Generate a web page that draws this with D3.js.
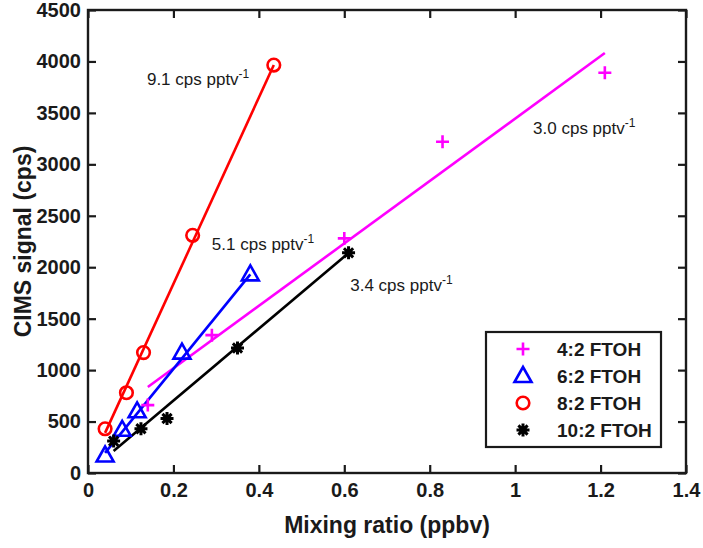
<!DOCTYPE html>
<html>
<head>
<meta charset="utf-8">
<script src="https://cdn.jsdelivr.net/npm/d3@7"></script>
<style>
  body { margin: 0; background: #fff; }
  svg { display: block; font-family: Arial, "Liberation Sans", sans-serif; }
  .tick text { font-weight: bold; font-size: 20px; fill: #1a1a1a; }
</style>
</head>
<body>
<svg></svg>
<script>
// series names and colours
let seriesNames = ['4:2 FTOH', '6:2 FTOH', '8:2 FTOH', '10:2 FTOH']
let seriesColors = ['#ff00ff', '#0000ff', '#ff0000', '#000000']
let seriesShapes = ['plus', 'triangle', 'circle', 'star']

// measured points: mixing ratio (ppbv) and CIMS signal (cps)
let x42 = [0.14, 0.29, 0.60, 0.83, 1.21]
let y42 = [660, 1340, 2280, 3220, 3890]
let x62 = [0.04, 0.08, 0.115, 0.22, 0.38]
let y62 = [170, 420, 600, 1170, 1930]
let x82 = [0.04, 0.09, 0.13, 0.245, 0.435]
let y82 = [430, 780, 1170, 2310, 3965]
let x102 = [0.06, 0.124, 0.185, 0.35, 0.61]
let y102 = [310, 430, 530, 1215, 2140]

// linear fits, [x start, y start, x end, y end]
let fit42 = [0.14, 836, 1.21, 4082]
let fit62 = [0.04, 196, 0.38, 1930]
let fit82 = [0.04, 390, 0.435, 3965]
let fit102 = [0.06, 214, 0.61, 2138]

// slope labels, anchored at data coords
let slopeText = ['9.1', '5.1', '3.4', '3.0']
let slopeX = [0.138, 0.29, 0.614, 1.042]
let slopeY = [3771, 2167, 1769, 3295]

let xTicks = [0, 0.2, 0.4, 0.6, 0.8, 1, 1.2, 1.4]
let yTicks = [0, 500, 1000, 1500, 2000, 2500, 3000, 3500, 4000, 4500]

let width = 703
let height = 548
let margin = {left: 88, right: 17, top: 10, bottom: 75}

let svg = d3.select('svg')
    .attr('width', width)
    .attr('height', height)

let xScale = d3.scaleLinear()
    .domain([0, 1.4])
    .range([margin.left, width - margin.right])

let yScale = d3.scaleLinear()
    .domain([0, 4500])
    .range([height - margin.bottom, margin.top])

let series = [
    {x: x42, y: y42, fit: fit42},
    {x: x62, y: y62, fit: fit62},
    {x: x82, y: y82, fit: fit82},
    {x: x102, y: y102, fit: fit102}
]

let tickLen = 8

// axes: bottom/left with labels, top/right mirrored ticks
let xAxis = d3.axisBottom(xScale).tickValues(xTicks).tickFormat(d3.format('')).tickSizeInner(-tickLen).tickSizeOuter(0).tickPadding(10)
let yAxis = d3.axisLeft(yScale).tickValues(yTicks).tickFormat(d3.format('')).tickSizeInner(-tickLen).tickSizeOuter(0).tickPadding(7)

svg.append('g')
    .attr('transform', 'translate(0,' + yScale(0) + ')')
    .call(xAxis)
svg.append('g')
    .attr('transform', 'translate(' + xScale(0) + ',0)')
    .call(yAxis)
svg.append('g')
    .attr('transform', 'translate(0,' + yScale(4500) + ')')
    .call(d3.axisTop(xScale).tickValues(xTicks).tickFormat('').tickSizeInner(-tickLen).tickSizeOuter(0))
svg.append('g')
    .attr('transform', 'translate(' + xScale(1.4) + ',0)')
    .call(d3.axisRight(yScale).tickValues(yTicks).tickFormat('').tickSizeInner(-tickLen).tickSizeOuter(0))

svg.selectAll('.domain').remove()
svg.selectAll('.tick line').attr('stroke', '#1a1a1a').attr('stroke-width', 2.2)

// plot box
svg.append('rect')
    .attr('x', xScale(0))
    .attr('y', yScale(4500))
    .attr('width', xScale(1.4) - xScale(0))
    .attr('height', yScale(0) - yScale(4500))
    .attr('fill', 'none')
    .attr('stroke', '#1a1a1a')
    .attr('stroke-width', 2.4)

// axis titles
svg.append('text')
    .attr('x', (xScale(0) + xScale(1.4)) / 2)
    .attr('y', 533)
    .attr('text-anchor', 'middle')
    .attr('font-weight', 'bold')
    .attr('font-size', 23)
    .attr('fill', '#1a1a1a')
    .text('Mixing ratio (ppbv)')

svg.append('text')
    .attr('transform', 'translate(31,' + (yScale(2250)) + ') rotate(-90)')
    .attr('text-anchor', 'middle')
    .attr('font-weight', 'bold')
    .attr('font-size', 23)
    .attr('fill', '#1a1a1a')
    .text('CIMS signal (cps)')

let drawMarker = (g, shape, color, cx, cy) => {
    if (shape == 'plus') {
        g.append('path')
            .attr('d', `M${cx - 6.5},${cy}H${cx + 6.5}M${cx},${cy - 6.5}V${cy + 6.5}`)
            .attr('stroke', color).attr('stroke-width', 2.6).attr('fill', 'none')
    } else if (shape == 'triangle') {
        g.append('path')
            .attr('d', `M${cx},${cy - 9}L${cx + 8.5},${cy + 6}L${cx - 8.5},${cy + 6}Z`)
            .attr('stroke', color).attr('stroke-width', 2.6).attr('fill', 'none')
    } else if (shape == 'circle') {
        g.append('circle')
            .attr('cx', cx).attr('cy', cy).attr('r', 6.3)
            .attr('stroke', color).attr('stroke-width', 2.6).attr('fill', 'none')
    } else {
        let d = ''
        for (let k = 0; k < 4; k++) {
            let a = k * Math.PI / 4
            let dx = 6.5 * Math.cos(a), dy = 6.5 * Math.sin(a)
            d += `M${cx - dx},${cy - dy}L${cx + dx},${cy + dy}`
        }
        g.append('path')
            .attr('d', d)
            .attr('stroke', color).attr('stroke-width', 3).attr('fill', 'none')
    }
}

// fit lines then markers
series.forEach((s, i) => {
    let f = s.fit
    svg.append('line')
        .attr('x1', xScale(f[0])).attr('y1', yScale(f[1]))
        .attr('x2', xScale(f[2])).attr('y2', yScale(f[3]))
        .attr('stroke', seriesColors[i])
        .attr('stroke-width', 2.6)
})

series.forEach((s, i) => {
    let g = svg.append('g')
    s.x.forEach((xv, j) => {
        drawMarker(g, seriesShapes[i], seriesColors[i], xScale(xv), yScale(s.y[j]))
    })
})

// slope annotations
slopeText.forEach((t, i) => {
    let txt = svg.append('text')
        .attr('x', xScale(slopeX[i]))
        .attr('y', yScale(slopeY[i]))
        .attr('font-size', 17)
        .attr('fill', '#1a1a1a')
    txt.append('tspan').text(t + ' cps pptv')
    txt.append('tspan').attr('dy', -7).attr('font-size', 12).text('-1')
})

// legend
let lg = svg.append('g')
lg.append('rect')
    .attr('x', 486).attr('y', 332)
    .attr('width', 175).attr('height', 115)
    .attr('fill', '#fff')
    .attr('stroke', '#1a1a1a')
    .attr('stroke-width', 2.2)

let legendRows = [349, 376, 403, 430]
seriesNames.forEach((name, i) => {
    drawMarker(lg, seriesShapes[i], seriesColors[i], 523, legendRows[i])
    lg.append('text')
        .attr('x', 557)
        .attr('y', legendRows[i] + 7)
        .attr('font-weight', 'bold')
        .attr('font-size', 19)
        .attr('fill', '#1a1a1a')
        .text(name)
})
</script>
</body>
</html>
